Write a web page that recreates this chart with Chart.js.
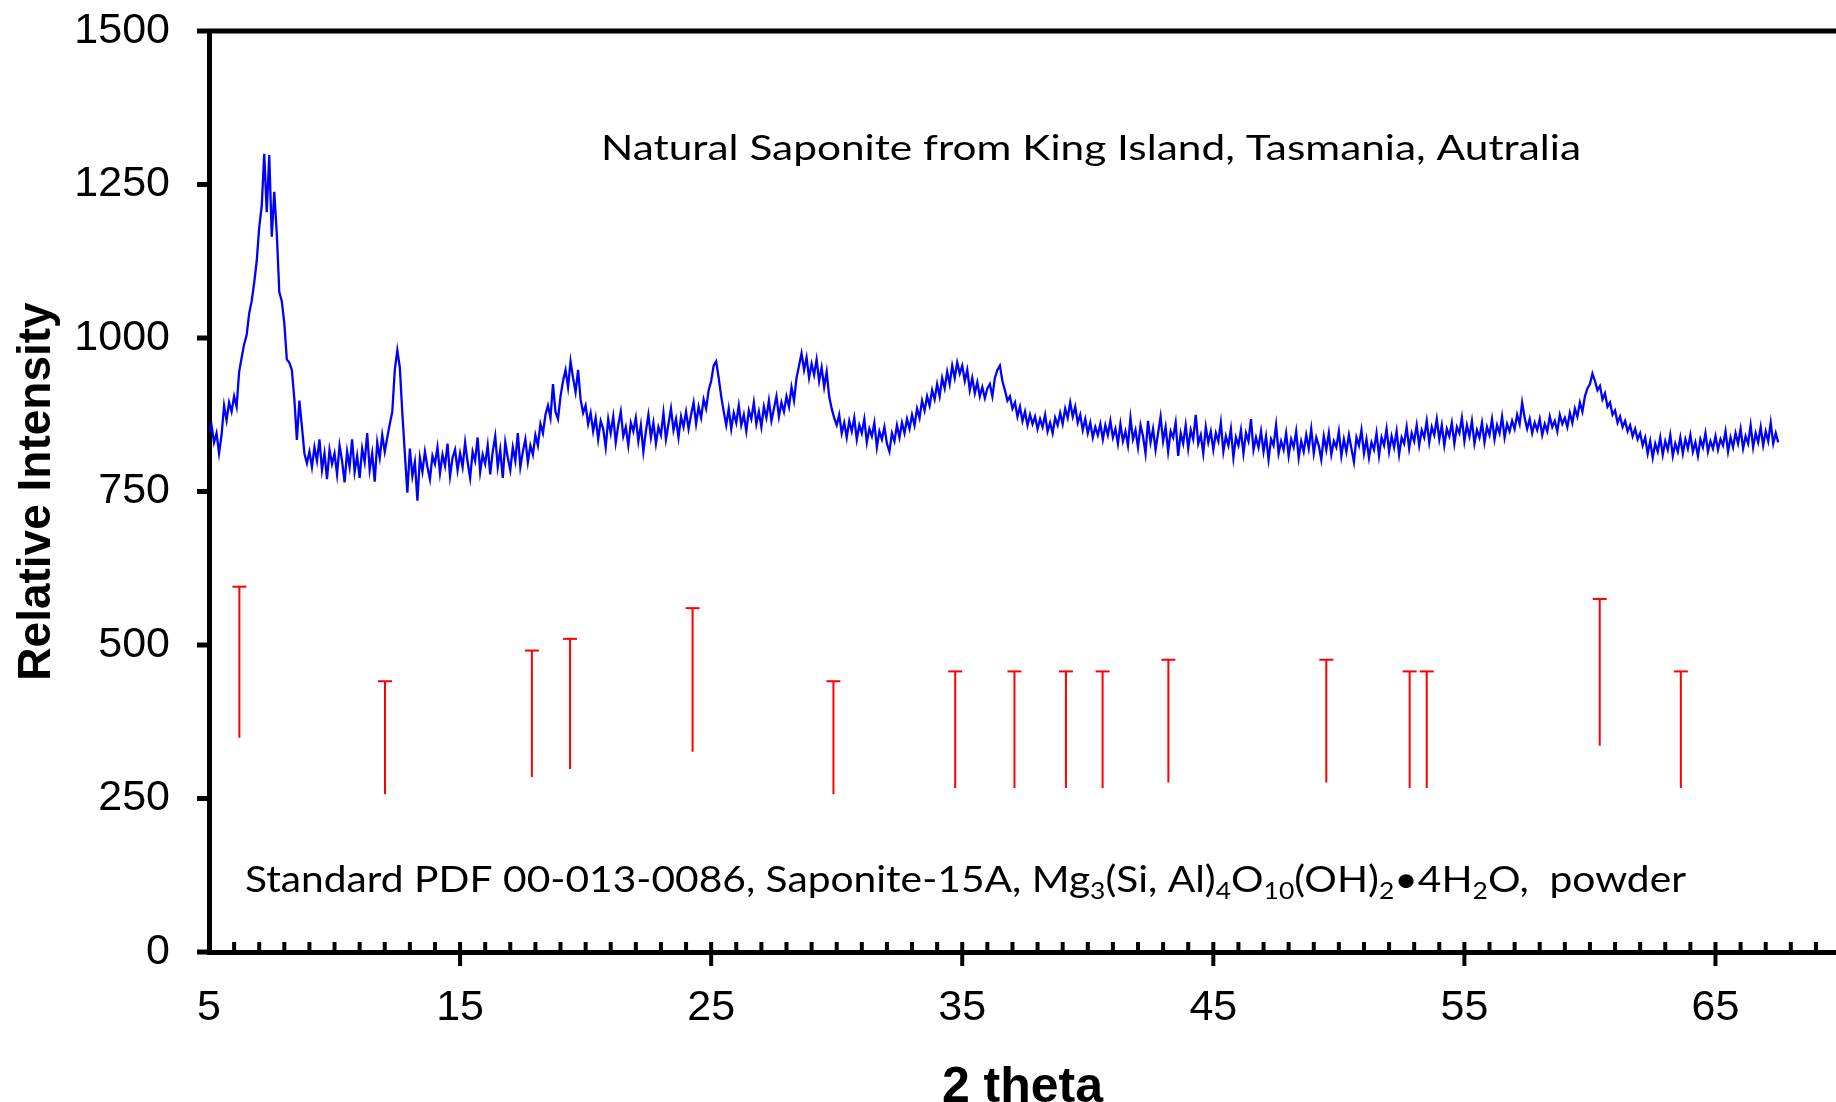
<!DOCTYPE html>
<html>
<head>
<meta charset="utf-8">
<title>Natural Saponite XRD</title>
<script src="https://cdn.jsdelivr.net/npm/chart.js@4.4.4/dist/chart.umd.min.js"></script>
<style>
  html, body { margin: 0; padding: 0; background: #fff; }
  canvas { display: block; }
</style>
</head>
<body>
<canvas id="chart" width="1836" height="1102" style="width:1836px;height:1102px"></canvas>
<script>
// Scan grid of the measured pattern (degrees 2 theta)
const scanStart = 5.0;
const scanStep = 0.1;

const intensity = [
  848, 858, 830, 845, 812, 842, 890, 866, 895, 880, // 5
  905, 888, 945, 968, 990, 1005, 1040, 1060, 1090, 1125, // 6
  1180, 1215, 1300, 1205, 1298, 1165, 1238, 1170, 1075, 1060, // 7
  1024, 965, 960, 948, 900, 834, 898, 856, 812, 796, // 8
  815, 790, 822, 800, 835, 785, 812, 770, 818, 795, // 9
  812, 778, 825, 800, 765, 815, 790, 835, 782, 808, // 10
  772, 820, 798, 845, 785, 812, 766, 830, 805, 842, // 11
  815, 838, 860, 880, 948, 980, 952, 878, 812, 748, // 12
  820, 775, 798, 735, 805, 782, 815, 790, 770, 808, // 13
  795, 822, 780, 810, 792, 828, 775, 805, 818, 785, // 14
  812, 790, 830, 798, 772, 815, 800, 838, 782, 810, // 15
  795, 825, 778, 815, 840, 790, 818, 772, 830, 805, // 16
  785, 822, 800, 845, 790, 815, 835, 798, 825, 810, // 17
  842, 825, 860, 845, 875, 890, 870, 925, 880, 868, // 18
  905, 930, 948, 920, 962, 935, 912, 948, 900, 878, // 19
  890, 860, 878, 848, 870, 835, 865, 852, 822, 868, // 20
  845, 872, 830, 858, 880, 840, 855, 825, 862, 848, // 21
  870, 832, 858, 815, 848, 875, 838, 862, 828, 855, // 22
  842, 878, 835, 860, 885, 850, 868, 838, 872, 855, // 23
  880, 852, 875, 895, 860, 888, 870, 900, 885, 915, // 24
  930, 955, 962, 935, 905, 880, 858, 885, 852, 878, // 25
  862, 890, 858, 875, 848, 882, 868, 895, 860, 880, // 26
  855, 888, 870, 898, 865, 885, 905, 872, 895, 880, // 27
  905, 888, 920, 898, 935, 955, 975, 948, 968, 935, // 28
  958, 940, 965, 930, 952, 920, 945, 905, 885, 870, // 29
  858, 875, 845, 862, 838, 865, 848, 870, 835, 858, // 30
  845, 868, 830, 852, 840, 862, 822, 848, 835, 855, // 31
  828, 815, 845, 832, 858, 838, 862, 845, 868, 852, // 32
  875, 858, 885, 870, 898, 882, 905, 890, 915, 900, // 33
  925, 905, 935, 918, 945, 925, 955, 935, 960, 942, // 34
  955, 930, 948, 915, 935, 910, 928, 905, 920, 902, // 35
  918, 925, 905, 935, 948, 955, 930, 915, 898, 905, // 36
  885, 895, 872, 888, 865, 880, 858, 875, 860, 872, // 37
  852, 868, 855, 875, 848, 862, 845, 870, 858, 878, // 38
  860, 885, 870, 895, 872, 888, 862, 875, 850, 868, // 39
  845, 862, 838, 855, 842, 860, 835, 858, 842, 865, // 40
  838, 852, 828, 860, 832, 848, 825, 870, 835, 850, // 41
  822, 858, 840, 812, 865, 830, 852, 818, 845, 872, // 42
  832, 855, 815, 848, 838, 862, 808, 845, 828, 858, // 43
  820, 850, 835, 875, 828, 842, 812, 855, 830, 848, // 44
  818, 845, 832, 862, 815, 840, 825, 852, 805, 838, // 45
  825, 850, 812, 845, 832, 868, 818, 838, 822, 848, // 46
  815, 840, 802, 835, 825, 858, 812, 832, 818, 845, // 47
  808, 835, 822, 848, 805, 832, 815, 842, 820, 852, // 48
  812, 838, 825, 802, 840, 818, 845, 810, 832, 822, // 49
  848, 808, 835, 815, 842, 820, 798, 838, 825, 850, // 50
  812, 835, 805, 830, 818, 845, 808, 838, 825, 852, // 51
  815, 840, 822, 848, 810, 838, 828, 855, 820, 845, // 52
  832, 858, 825, 850, 838, 865, 830, 855, 842, 868, // 53
  835, 858, 825, 852, 840, 862, 828, 855, 845, 870, // 54
  832, 858, 840, 865, 828, 850, 838, 862, 830, 855, // 55
  842, 868, 835, 858, 845, 872, 838, 860, 848, 865, // 56
  852, 875, 860, 895, 870, 852, 868, 845, 862, 850, // 57
  868, 842, 860, 848, 872, 855, 865, 848, 875, 860, // 58
  870, 855, 878, 862, 885, 872, 895, 880, 905, 918, // 59
  925, 942, 930, 915, 922, 900, 910, 888, 895, 875, // 60
  882, 862, 872, 855, 865, 848, 858, 840, 852, 835, // 61
  845, 825, 838, 812, 832, 805, 828, 815, 838, 810, // 62
  832, 818, 842, 808, 828, 815, 838, 812, 835, 820, // 63
  842, 815, 830, 808, 835, 822, 845, 815, 832, 820, // 64
  840, 818, 835, 825, 848, 815, 838, 822, 845, 828, // 65
  852, 820, 840, 828, 858, 822, 845, 830, 855, 825, // 66
  848, 832, 862, 828, 845, 830                      // 67
];

// Reference lines, Standard PDF 00-013-0086 (drawn as offset sticks)
const stickTheta  = [6.21, 12.01, 17.86, 19.38, 24.26, 29.87, 34.72, 37.08, 39.13, 40.59, 43.21, 49.5, 52.82, 53.5, 60.39, 63.62];
const stickTop    = [595, 441, 491, 510, 560, 441, 457, 457, 457, 457, 476, 476, 457, 457, 575, 457];
const stickBottom = [349, 257, 285, 298, 326, 257, 267, 267, 267, 267, 276, 276, 267, 267, 336, 267];

const xMin = 5, xMax = 69.8, xLabelStep = 10;
const yMin = 0, yMax = 1500, yStep = 250;

const sampleTitle = [['Natural Saponite from King Island, Tasmania, Autralia', false]];
const pdfTitle = [
  ['Standard PDF 00-013-0086, Saponite-15A, Mg', false], ['3', true],
  ['(Si, Al)', false], ['4', true], ['O', false], ['10', true],
  ['(OH)', false], ['2', true], ['\u20224H', false], ['2', true], ['O,  powder', false]
];

const patternPoints = intensity.map((v, i) => ({ x: +(scanStart + i * scanStep).toFixed(2), y: v }));

const stickPoints = [];
stickTheta.forEach((t, i) => {
  stickPoints.push({ x: t, y: stickBottom[i] }, { x: t, y: stickTop[i] }, { x: t, y: null });
});
const capPoints = stickTheta.map((t, i) => ({ x: t, y: stickTop[i] }));

const isLabelTick = v => Math.abs(((v - xMin) % xLabelStep)) < 1e-6;

const tickFont = { family: "'Liberation Sans', Arial, sans-serif", size: 43 };
const titleFont = { family: "'Liberation Sans', Arial, sans-serif", size: 46, weight: 'bold', lineHeight: 1 };

// draws a run of text (with subscripts) stretched to span [left, right]
function drawRun(ctx, parts, left, right, baseline, size) {
  const fam = "Lato, 'Open Sans', sans-serif";
  const fontFor = sub => `${sub ? Math.round(size * 0.64) : size}px ${fam}`;
  let total = 0;
  const widths = parts.map(([s, sub]) => { ctx.font = fontFor(sub); const w = ctx.measureText(s).width; total += w; return w; });
  ctx.save();
  ctx.translate(left, baseline);
  ctx.scale((right - left) / total, 1);
  ctx.fillStyle = '#000';
  ctx.textBaseline = 'alphabetic';
  let cx = 0;
  parts.forEach(([s, sub], i) => {
    ctx.font = fontFor(sub);
    ctx.fillText(s, cx, sub ? size * 0.2 : 0);
    cx += widths[i];
  });
  ctx.restore();
}

// frame, tick marks and the two text blocks
const framePlugin = {
  id: 'frame',
  afterDraw(chart) {
    const { ctx, chartArea: a, scales: { x, y } } = chart;
    ctx.save();
    ctx.strokeStyle = '#000';
    ctx.lineCap = 'butt';
    ctx.lineWidth = 5;
    ctx.beginPath();
    ctx.moveTo(a.left, a.top);
    ctx.lineTo(chart.width, a.top);
    ctx.stroke();
    for (const t of y.ticks) {
      const py = y.getPixelForValue(t.value);
      ctx.beginPath();
      ctx.moveTo(a.left - 12, py);
      ctx.lineTo(a.left, py);
      ctx.stroke();
    }
    // minor ticks point up, labelled ticks cross the axis
    ctx.lineWidth = 4;
    for (const t of x.ticks) {
      const px = x.getPixelForValue(t.value);
      if (px <= a.left + 3) continue;
      ctx.beginPath();
      ctx.moveTo(px, a.bottom - 10);
      ctx.lineTo(px, a.bottom + (isLabelTick(t.value) ? 14 : 0));
      ctx.stroke();
    }
    ctx.restore();
    drawRun(ctx, sampleTitle, 601, 1581, 160, 35);
    drawRun(ctx, pdfTitle, 245, 1686, 892, 37);
  }
};

const hidden = 'rgba(0,0,0,0)';

new Chart(document.getElementById('chart'), {
  type: 'line',
  data: {
    datasets: [
      {
        label: 'Natural Saponite',
        data: patternPoints,
        borderColor: '#0000FF',
        borderWidth: 2.3,
        pointRadius: 0,
        tension: 0,
        order: 1
      },
      {
        label: 'PDF 00-013-0086',
        data: stickPoints,
        borderColor: '#FF0000',
        borderWidth: 2,
        pointRadius: 0,
        spanGaps: false,
        order: 2
      },
      {
        label: 'caps',
        data: capPoints,
        showLine: false,
        pointStyle: 'line',
        pointRadius: 7,
        borderColor: '#FF0000',
        borderWidth: 2,
        order: 3
      }
    ]
  },
  options: {
    responsive: false,
    animation: false,
    devicePixelRatio: 1,
    layout: { autoPadding: false, padding: { top: 31, right: 0, left: 0, bottom: 0 } },
    plugins: { legend: { display: false }, tooltip: { enabled: false } },
    scales: {
      x: {
        type: 'linear',
        min: xMin,
        max: xMax,
        afterFit: s => { s.height = 150; },
        grid: { drawOnChartArea: false, drawTicks: true, tickLength: 30, tickColor: hidden },
        border: { display: true, color: '#000', width: 5 },
        ticks: {
          stepSize: 1,
          includeBounds: false,
          autoSkip: false,
          maxRotation: 0,
          padding: 0,
          color: '#000',
          font: tickFont,
          callback: v => isLabelTick(v) ? String(Math.round(v)) : ''
        },
        title: { display: true, text: '2 theta', color: '#000', font: { ...titleFont, size: 50, lineHeight: 0.56 }, padding: { top: 0, bottom: 0 } }
      },
      y: {
        min: yMin,
        max: yMax,
        afterFit: s => { s.width = 209; },
        grid: { drawOnChartArea: false, drawTicks: true, tickLength: 39, tickColor: hidden },
        border: { display: true, color: '#000', width: 5 },
        ticks: { stepSize: yStep, padding: 0, color: '#000', font: tickFont, callback: v => String(v) },
        title: { display: true, text: 'Relative Intensity', color: '#000', font: titleFont, padding: { top: 14, bottom: 0 } }
      }
    }
  },
  plugins: [framePlugin]
});
</script>
</body>
</html>
